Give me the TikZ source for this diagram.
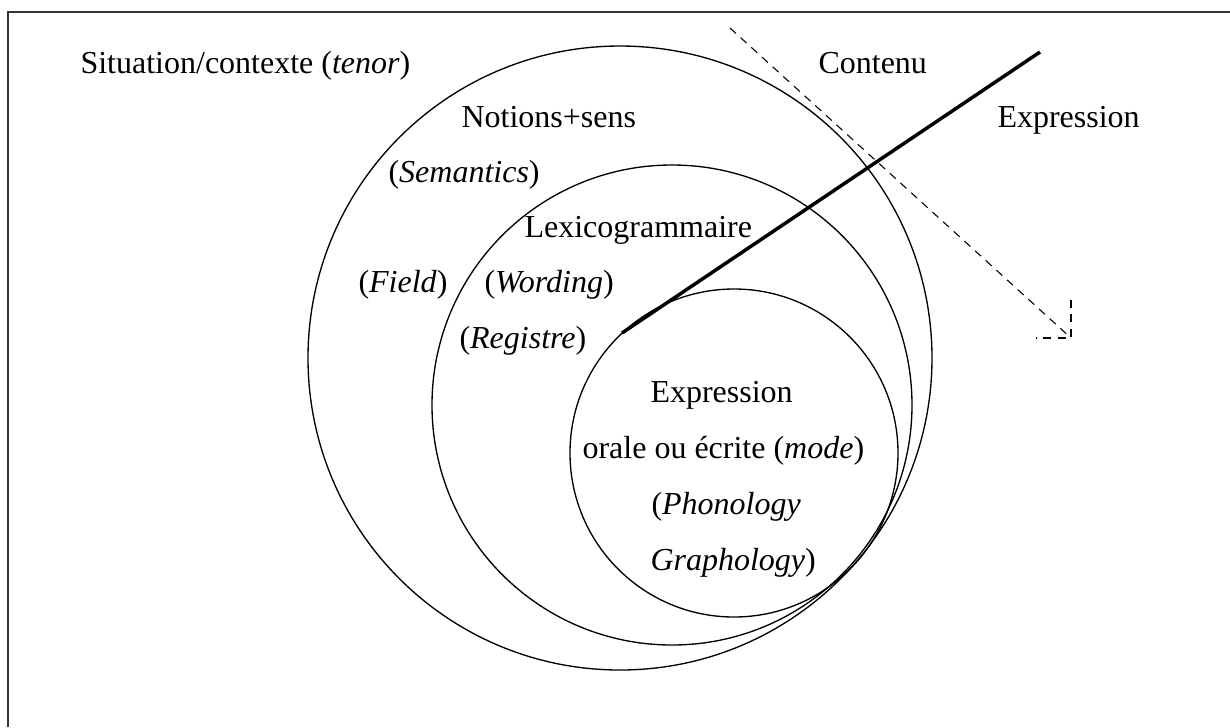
\documentclass[tikz,border=0pt]{standalone}
\usepackage{fontspec}
\setmainfont{Liberation Serif}
\begin{document}
\begin{tikzpicture}[x=0.375pt, y=-0.375pt, font=\fontsize{12}{14}\selectfont,
    lbl/.style={anchor=base west, inner sep=0pt}]
      \useasboundingbox (0,0) rectangle (1230,727);
      % Frame
      \draw[line width=0.6, black!80] (8,727) |- (1230,12);

      % Draw circles
      \coordinate (outer) at (620,358);
      \coordinate (lexico) at (672,405);
      \coordinate (expr) at (734,453);
      \draw[line width=0.5] (outer) circle (312);
      \draw[line width=0.5] (lexico) circle (240);
      \draw[line width=0.5] (expr) circle (164);

      % Thick line and dashed separator
      \coordinate (axisstart) at (622,333);
      \coordinate (axisend) at (1040,52);
      \draw[line width=1.3] (axisstart) -- (axisend);
      \coordinate (sepstart) at (730,28);
      \coordinate (sepend) at (1071,338);
      \draw[line width=0.4, dash pattern=on 3pt off 2.4pt] (sepstart) -- (sepend);
      \draw[line width=0.4, dash pattern=on 3pt off 2.4pt] (sepend) ++(0,-38) -- (sepend) -- ++(-35,0);

      % Labels
      \node[lbl] (situation) at (80,73) {Situation/contexte (\textit{tenor})};
      \node[lbl] (contenu) at (818,73) {Contenu};
      \node[lbl] (exprtop) at (997,127) {Expression};
      \node[lbl] (notions) at (461,127) {Notions+sens};
      \node[lbl] (semantics) at (388,182) {(\textit{Semantics})};
      \node[lbl] (lexicogr) at (524,237) {Lexicogrammaire};
      \node[lbl] (field) at (358,292) {(\textit{Field})};
      \node[lbl] (wording) at (484,292) {(\textit{Wording})};
      \node[lbl] (registre) at (459,348) {(\textit{Registre})};
      \node[lbl] (exprin) at (650,402) {Expression};
      \node[lbl] (orale) at (582,458) {orale ou écrite (\textit{mode})};
      \node[lbl] (phono) at (651,514) {(\textit{Phonology}};
      \node[lbl] (grapho) at (650,570) {\textit{Graphology})};
    \end{tikzpicture}
\end{document}
